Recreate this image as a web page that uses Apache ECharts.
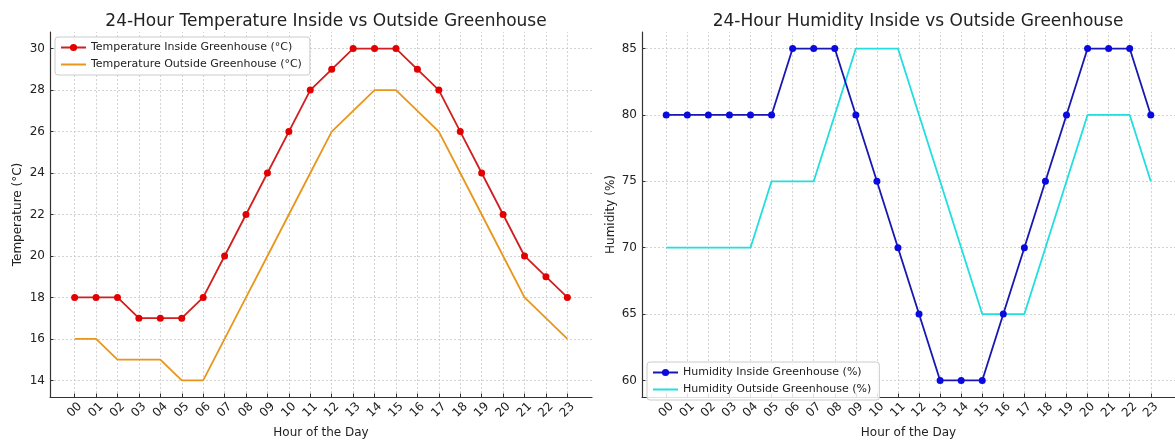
<!DOCTYPE html>
<html>
<head>
    <meta charset="utf-8">
    <title>Greenhouse 24h</title>
    <script src="https://cdn.jsdelivr.net/npm/echarts@6/dist/echarts.min.js"></script>
</head>
<body style="margin:0">
<div id="main" style="width: 1175px;height:444px;"></div>
<script type="text/javascript">
    // hours of the day, shown as two-digit labels
    var hourLabels = ['00','01','02','03','04','05','06','07','08','09','10','11',
                      '12','13','14','15','16','17','18','19','20','21','22','23'];

    var tempInside  = [18, 18, 18, 17, 17, 17, 18, 20, 22, 24, 26, 28, 29, 30, 30, 30, 29, 28, 26, 24, 22, 20, 19, 18];
    var tempOutside = [16, 16, 15, 15, 15, 14, 14, 16, 18, 20, 22, 24, 26, 27, 28, 28, 27, 26, 24, 22, 20, 18, 17, 16];
    var humInside   = [80, 80, 80, 80, 80, 80, 85, 85, 85, 80, 75, 70, 65, 60, 60, 60, 65, 70, 75, 80, 85, 85, 85, 80];
    var humOutside  = [70, 70, 70, 70, 70, 75, 75, 75, 80, 85, 85, 85, 80, 75, 70, 65, 65, 65, 70, 75, 80, 80, 80, 75];

    var tempTicks = [14, 16, 18, 20, 22, 24, 26, 28, 30];
    var humTicks  = [60, 65, 70, 75, 80, 85];

    var font = 'DejaVu Sans';
    var hourIdx = hourLabels.map(function (h, i) { return i; });

    function pairs(values) {
        return values.map(function (v, i) { return [i, v]; });
    }

    function xAxis(gridIndex) {
        return {
            type: 'value', gridIndex: gridIndex, min: -1.15, max: 24.15,
            name: 'Hour of the Day', nameLocation: 'middle', nameGap: 30,
            nameTextStyle: { fontFamily: font, fontSize: 12, color: '#222' },
            axisLine: { show: true, onZero: false, lineStyle: { color: '#333', width: 1.2 } },
            axisTick: { show: true, inside: true, length: 3.5, customValues: hourIdx, lineStyle: { color: '#333' } },
            axisLabel: {
                customValues: hourIdx, rotate: 45, align: 'center', verticalAlign: 'middle', margin: 13,
                fontFamily: font, fontSize: 12, color: '#222',
                formatter: function (v) { return hourLabels[v]; }
            },
            splitLine: { show: false }
        };
    }

    function yAxis(gridIndex, name, min, max, ticks, gap) {
        return {
            type: 'value', gridIndex: gridIndex, min: min, max: max,
            name: name, nameLocation: 'middle', nameGap: gap,
            nameTextStyle: { fontFamily: font, fontSize: 12, color: '#222' },
            axisLine: { show: true, onZero: false, lineStyle: { color: '#333', width: 1.2 } },
            axisTick: { show: true, inside: true, length: 3.5, customValues: ticks, lineStyle: { color: '#333' } },
            axisLabel: { customValues: ticks, margin: 5, fontFamily: font, fontSize: 12, color: '#222' },
            splitLine: { show: false }
        };
    }

    // dotted grid drawn at the tick values through the axes' scales, kept under the lines
    function gridSeries(gridIndex, yTicks) {
        return {
            type: 'line', xAxisIndex: gridIndex, yAxisIndex: gridIndex, data: [], z: 0,
            markLine: {
                z: 0, silent: true, symbol: ['none', 'none'], label: { show: false }, animation: false,
                lineStyle: { type: [2, 2], color: '#c8c8c8', width: 0.8 },
                emphasis: { disabled: true },
                data: hourIdx.map(function (i) { return { xAxis: i }; })
                    .concat(yTicks.map(function (v) { return { yAxis: v }; }))
            }
        };
    }

    var legendBase = {
        orient: 'vertical', itemWidth: 25, itemHeight: 9, itemGap: 6,
        padding: [5, 8, 5, 5],
        backgroundColor: 'rgba(255,255,255,0.85)', borderColor: '#cccccc', borderWidth: 1, borderRadius: 3,
        textStyle: { fontFamily: font, fontSize: 11, color: '#222' }
    };
    var noMarker = { opacity: 0 };

    var myChart = echarts.init(document.getElementById('main'));
    myChart.setOption({
        animation: false,
        backgroundColor: '#ffffff',
        title: [
            { text: '24-Hour Temperature Inside vs Outside Greenhouse', left: 321, top: 8, textAlign: 'center',
              textStyle: { fontFamily: font, fontSize: 17, fontWeight: 'normal', color: '#222' } },
            { text: '24-Hour Humidity Inside vs Outside Greenhouse', left: 913, top: 8, textAlign: 'center',
              textStyle: { fontFamily: font, fontSize: 17, fontWeight: 'normal', color: '#222' } }
        ],
        legend: [
            Object.assign({}, legendBase, { left: 55, top: 37,
                data: ['Temperature Inside Greenhouse (°C)',
                       { name: 'Temperature Outside Greenhouse (°C)', itemStyle: noMarker }] }),
            Object.assign({}, legendBase, { left: 647, top: 362,
                data: ['Humidity Inside Greenhouse (%)',
                       { name: 'Humidity Outside Greenhouse (%)', itemStyle: noMarker }] })
        ],
        grid: [
            { left: 50, right: 583, top: 32, bottom: 41 },
            { left: 642, right: -9, top: 32, bottom: 41 }
        ],
        xAxis: [xAxis(0), xAxis(1)],
        yAxis: [
            yAxis(0, 'Temperature (°C)', 13.2, 30.8, tempTicks, 26),
            yAxis(1, 'Humidity (%)', 58.75, 86.25, humTicks, 25)
        ],
        series: [
            gridSeries(0, tempTicks),
            gridSeries(1, humTicks),
            {
                name: 'Temperature Inside Greenhouse (°C)', type: 'line', xAxisIndex: 0, yAxisIndex: 0, z: 3,
                data: pairs(tempInside), symbol: 'circle', symbolSize: 7,
                lineStyle: { color: '#cf1f1f', width: 1.8 }, itemStyle: { color: '#e30000' }
            },
            {
                name: 'Temperature Outside Greenhouse (°C)', type: 'line', xAxisIndex: 0, yAxisIndex: 0, z: 2,
                data: pairs(tempOutside), symbol: 'none',
                lineStyle: { color: '#e8961c', width: 1.8 }, itemStyle: { color: '#e8961c' }
            },
            {
                name: 'Humidity Inside Greenhouse (%)', type: 'line', xAxisIndex: 1, yAxisIndex: 1, z: 3,
                data: pairs(humInside), symbol: 'circle', symbolSize: 7,
                lineStyle: { color: '#1818b0', width: 1.8 }, itemStyle: { color: '#0a0ae0' }
            },
            {
                name: 'Humidity Outside Greenhouse (%)', type: 'line', xAxisIndex: 1, yAxisIndex: 1, z: 2,
                data: pairs(humOutside), symbol: 'none',
                lineStyle: { color: '#22dede', width: 1.8 }, itemStyle: { color: '#22dede' }
            }
        ]
    });
</script>
</body>
</html>
